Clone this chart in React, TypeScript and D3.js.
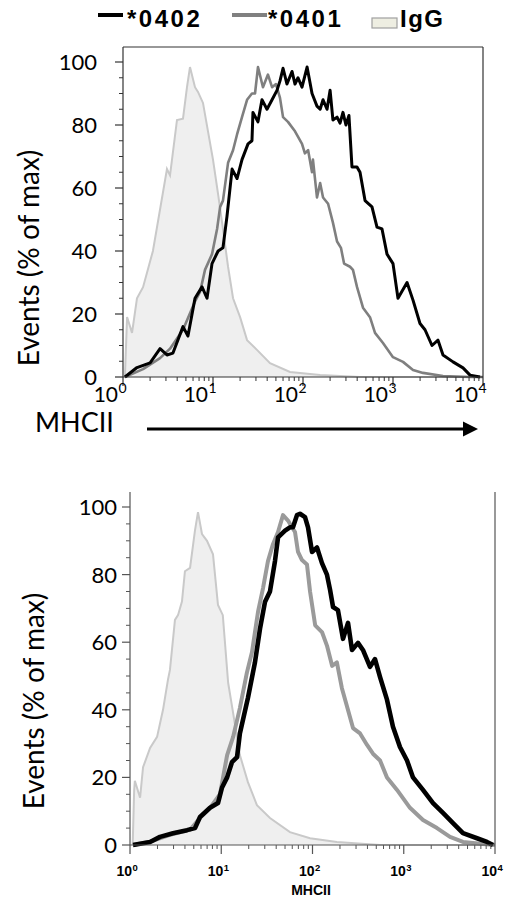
import React from 'react';
import * as d3 from 'd3';

type Pt = [number, number];

// legend entries
const seriesNames = ['*0402', '*0401', 'IgG'];
const yTicks = [0, 20, 40, 60, 80, 100];
const decades = [0, 1, 2, 3, 4];

// top panel: [MHCII intensity, events % of max]
const topIgG: Pt[] = [
  [1.05, 0], [1.11, 19], [1.26, 14], [1.43, 25], [1.67, 28.5], [2.15, 40], [3.08, 66], [3.33, 64],
  [3.98, 81.6], [4.64, 82], [5.14, 92], [5.55, 98.4], [6.31, 92], [6.81, 90.5], [7.74, 87], [8.8, 78],
  [10, 69], [11.4, 58], [12.9, 47], [14.7, 35], [16.7, 25], [20, 19], [23.9, 11.7], [30.8, 8.6],
  [43, 4.4], [71.7, 1.6], [155, 0.6], [430, 0], [10000, 0],
];
const top0402: Pt[] = [
  [1.05, 0], [1.43, 3], [2.0, 4.5], [2.58, 9], [3.08, 7], [3.59, 7.6], [4.64, 16], [5.27, 13],
  [6.31, 25], [7.55, 28.6], [8.58, 25], [9.75, 36], [11.4, 40], [12.9, 41], [14.3, 51], [16.3, 66],
  [18.5, 63], [21, 69], [24.5, 74], [27.1, 75], [27.8, 84], [31.6, 81], [35, 88], [39.8, 85],
  [45.3, 88], [51.4, 91], [55.5, 94], [60, 98], [66.4, 93], [75.5, 97], [81.5, 93], [88, 95],
  [97.5, 92], [111, 98.4], [126, 90], [143, 86], [155, 85], [167, 88], [185, 85], [200, 91],
  [215, 81.6], [239, 82.5], [258, 80.6], [278, 84], [300, 80], [324, 83], [350, 66.7], [398, 66.7],
  [430, 65], [489, 56], [584, 54], [664, 47.6], [755, 47], [858, 39], [1000, 36], [1136, 25],
  [1432, 30], [1668, 24.4], [1995, 17], [2268, 15], [2712, 10], [3162, 11.7], [3594, 7],
  [4642, 4.8], [5995, 2.9], [7175, 0.6], [9260, 0],
];
const top0401: Pt[] = [
  [1.05, 0], [1.67, 2.5], [2.58, 6], [3.33, 9], [4.64, 15], [6.31, 24], [7.18, 27], [8.15, 34],
  [9.75, 39], [11.1, 47], [12, 54], [12.9, 56], [14.7, 68], [16.7, 72], [18.5, 77], [21, 82.5],
  [23.9, 88], [27.1, 90], [29.3, 90], [31.6, 98.4], [35.9, 92], [40.8, 96], [45.3, 92], [50.1, 93],
  [55.5, 88.6], [60, 82.5], [68.1, 81], [81.5, 78], [97.5, 74], [105, 71], [114, 72], [126, 65],
  [129, 69], [143, 57], [155, 61.6], [167, 57], [190, 55], [215, 49], [239, 43], [264, 41],
  [286, 36], [333, 35], [359, 34], [398, 28.6], [464, 22], [555, 19], [631, 14], [774, 10.8],
  [1000, 6.3], [1292, 4.8], [1668, 2.2], [2154, 1.3], [3594, 0.3], [7175, 0], [10000, 0],
];

// bottom panel
const botIgG: Pt[] = [
  [1.07, 0], [1.11, 16], [1.13, 19], [1.29, 14], [1.39, 23], [1.66, 28.7], [1.98, 32], [2.3, 40],
  [2.61, 49], [2.74, 51.8], [3.11, 66.6], [3.36, 68], [3.71, 72], [4.0, 81], [4.55, 82], [5.15, 93],
  [5.56, 98.5], [6.15, 92], [6.98, 90], [8.12, 86], [9.21, 71], [10.4, 68], [11.9, 48], [13.5, 39],
  [16, 26.6], [19.6, 18.6], [24.6, 11.8], [34.2, 8], [56.6, 3.8], [94, 2], [185, 0.9], [550, 0],
  [10000, 0],
];
const bot0402: Pt[] = [
  [1.08, 0], [1.66, 0.9], [2.13, 2.4], [2.96, 3.5], [4.21, 4.4], [5.16, 5], [5.85, 8.3], [7.53, 11],
  [9.21, 12.4], [10.2, 17], [11.6, 20], [13.1, 24.5], [14.9, 26], [16, 33], [19.6, 43.5], [23.4, 54],
  [26.6, 64], [30.2, 72], [34.2, 75], [38.8, 84], [41.9, 91], [50, 93], [56.6, 94], [61.1, 94],
  [67.6, 97.6], [72.9, 98], [82.8, 97], [89.3, 94], [98.8, 86.7], [112, 88], [127, 83.4], [144, 80],
  [156, 75.4], [168, 70.4], [190, 69.5], [216, 61], [245, 65.7], [271, 57.7], [315, 59.8],
  [357, 57.7], [427, 52.7], [484, 55], [550, 49.7], [655, 43], [762, 35], [909, 29], [1086, 25],
  [1263, 20], [1625, 16.3], [2094, 12.4], [2692, 9.5], [3467, 6.5], [4456, 3.5], [6353, 2],
  [8170, 0.9], [9510, 0],
];
const bot0401: Pt[] = [
  [1.08, 0], [1.66, 1], [2.74, 3], [4.55, 4.5], [5.85, 8], [7.53, 11], [9.68, 15], [11.6, 26.6],
  [13.5, 32], [16, 40.5], [19.1, 51], [21.7, 57], [25.3, 69], [28.7, 76], [32.5, 84], [36.9, 89],
  [41.9, 92.6], [47.5, 97.6], [53.9, 96], [59.6, 94], [64.3, 92.6], [69.4, 86.7], [76.7, 84.3],
  [87, 83], [94, 75], [107, 65], [127, 63], [144, 59], [164, 53], [185, 54], [210, 46.4],
  [239, 41], [278, 34.6], [332, 33], [396, 29.6], [460, 27], [550, 25], [655, 20], [844, 16.3],
  [1170, 11], [1625, 7.4], [2314, 5], [3214, 2.4], [4456, 0.9], [7380, 0.3], [10000, 0],
];

type PanelProps = {
  igg: Pt[]; s0402: Pt[]; s0401: Pt[];
  left: number; right: number; zeroY: number; fullY: number; topY: number;
  boxTop: boolean; bold: boolean;
};

function Panel({ igg, s0402, s0401, left, right, zeroY, fullY, topY, boxTop, bold }: PanelProps) {
  const x = d3.scaleLog().domain([1, 10000]).range([left, right]);
  const y = d3.scaleLinear().domain([0, 100]).range([zeroY, fullY]);
  const line = d3.line<Pt>().x(d => x(d[0])).y(d => y(d[1]));
  const area = d3.area<Pt>().x(d => x(d[0])).y0(y(0)).y1(d => y(d[1]));
  const minorX: number[] = [];
  decades.slice(0, -1).forEach(d => { for (let k = 2; k <= 9; k++) minorX.push(k * Math.pow(10, d)); });
  const yMinor = d3.range(0, 101, 5).filter(v => v % 20 !== 0);
  const axisColor = bold ? '#555' : '#333';

  return (
    <g>
      <path d={area(igg) || ''} fill="#efefef" />
      <path d={line(igg) || ''} fill="none" stroke="#c9c9c9" strokeWidth={2} />
      <path d={line(s0401) || ''} fill="none" stroke={bold ? '#9a9a9a' : '#7f7f7f'} strokeWidth={bold ? 4 : 2.6} strokeLinejoin="round" />
      <path d={line(s0402) || ''} fill="none" stroke="#000" strokeWidth={bold ? 4.6 : 3} strokeLinejoin="round" />

      {/* frame */}
      <line x1={left} x2={left} y1={topY} y2={zeroY} stroke={axisColor} strokeWidth={1.2} />
      <line x1={right} x2={right} y1={topY} y2={zeroY} stroke={axisColor} strokeWidth={1.2} />
      <line x1={left} x2={right} y1={zeroY} y2={zeroY} stroke={axisColor} strokeWidth={1.2} />
      {boxTop && <line x1={left} x2={right} y1={topY} y2={topY} stroke={axisColor} strokeWidth={1.2} />}

      {/* y ticks */}
      {yTicks.map(t => (
        <g key={'y' + t}>
          <line x1={left - 8} x2={left} y1={y(t)} y2={y(t)} stroke={axisColor} strokeWidth={1.2} />
          <text x={left - (bold ? 13 : 26)} y={y(t)} dy="0.36em" textAnchor="end"
            fontFamily="Lato, 'Open Sans', sans-serif" fontSize={22} fill="#000">{t}</text>
        </g>
      ))}
      {yMinor.map(t => (
        <line key={'ym' + t} x1={left - 4} x2={left} y1={y(t)} y2={y(t)} stroke={axisColor} strokeWidth={1} />
      ))}

      {/* x ticks */}
      {decades.map(d => (
        <line key={'xt' + d} x1={x(Math.pow(10, d))} x2={x(Math.pow(10, d))} y1={zeroY} y2={zeroY + 9} stroke={axisColor} strokeWidth={1.2} />
      ))}
      {minorX.map(v => (
        <line key={'xm' + v} x1={x(v)} x2={x(v)} y1={zeroY} y2={zeroY + 4} stroke={axisColor} strokeWidth={1} />
      ))}
      {decades.map(d => {
        const tx = x(Math.pow(10, d));
        return bold ? (
          <g key={'xl' + d} fontFamily="'Liberation Sans', Arial, sans-serif" fontWeight="bold" fill="#000">
            <text x={tx + 2} y={zeroY + 31} textAnchor="end" fontSize={14}>10</text>
            <text x={tx + 2.5} y={zeroY + 26} fontSize={9.5}>{d}</text>
          </g>
        ) : (
          <g key={'xl' + d} fontFamily="Lato, 'Open Sans', sans-serif" fill="#000">
            <text x={tx - 5} y={zeroY + 25} textAnchor="end" fontSize={21}>10</text>
            <text x={tx - 4.5} y={zeroY + 16} fontSize={14}>{d}</text>
          </g>
        );
      })}
    </g>
  );
}

export default function App() {
  const W = 508, H = 900;
  const legendColors = ['#000', '#808080'];
  return (
    <svg width={W} height={H} style={{ position: 'absolute', left: 0, top: 0, background: '#fff' }}>
      <rect width={W} height={H} fill="#fff" />

      {/* legend */}
      <g fontFamily="'Liberation Sans', Arial, sans-serif" fontWeight="bold" fontSize={24} fill="#000">
        <line x1={98} x2={123} y1={15} y2={15} stroke={legendColors[0]} strokeWidth={4} />
        <text x={127} y={27} letterSpacing={2.5}>{seriesNames[0]}</text>
        <line x1={232} x2={267} y1={15} y2={15} stroke={legendColors[1]} strokeWidth={4} />
        <text x={268} y={27} letterSpacing={2.5}>{seriesNames[1]}</text>
        <rect x={372} y={18} width={25} height={10} fill="#eeeee2" stroke="#a0a0a0" strokeWidth={1.2} />
        <text x={400} y={27} letterSpacing={1.5}>{seriesNames[2]}</text>
      </g>

      {/* top panel */}
      <Panel igg={topIgG} s0402={top0402} s0401={top0401}
        left={123} right={483} zeroY={377} fullY={62} topY={47} boxTop={true} bold={false} />
      <text transform="translate(39,258) rotate(-90)" textAnchor="middle"
        fontFamily="Lato, 'Open Sans', sans-serif" fontSize={28} fill="#000">Events (% of max)</text>
      <text x={35} y={432} fontFamily="Lato, 'Open Sans', sans-serif" fontSize={27} fill="#000">MHCII</text>
      <line x1={147} x2={465} y1={429} y2={429} stroke="#000" strokeWidth={3} />
      <path d="M463,421.5 L478,429 L463,436.5 Z" fill="#000" />

      {/* bottom panel */}
      <Panel igg={botIgG} s0402={bot0402} s0401={bot0401}
        left={130} right={495} zeroY={845} fullY={507} topY={492} boxTop={false} bold={true} />
      <text transform="translate(44,701) rotate(-90)" textAnchor="middle"
        fontFamily="Lato, 'Open Sans', sans-serif" fontSize={28} fill="#000">Events (% of max)</text>
      <text x={311} y={895} textAnchor="middle" fontFamily="'Liberation Sans', Arial, sans-serif"
        fontWeight="bold" fontSize={14} fill="#000">MHCII</text>
    </svg>
  );
}
